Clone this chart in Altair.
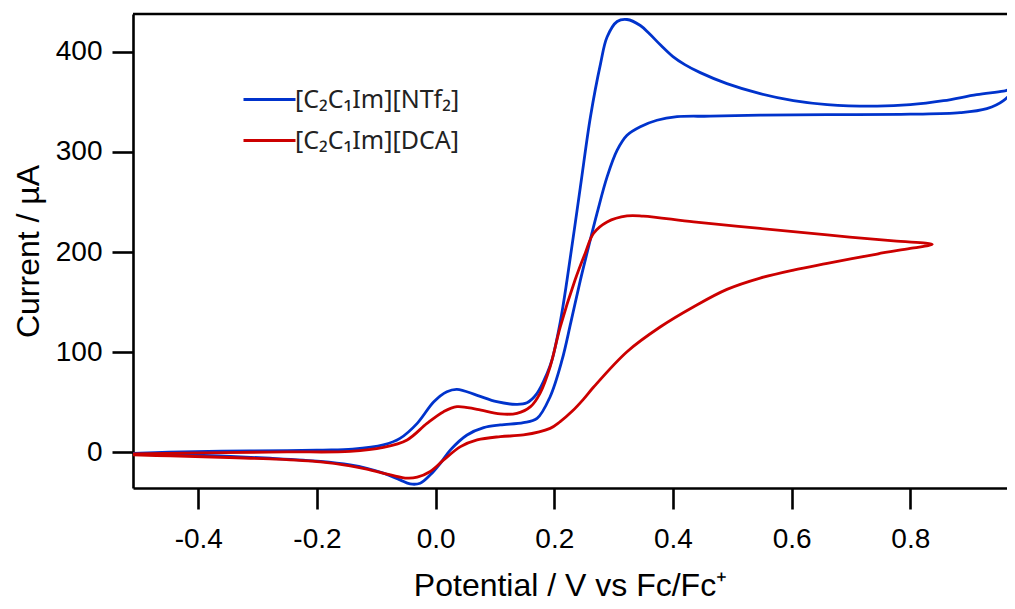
import altair as alt
import pandas as pd

# ---- data (Potential / V, Current / uA) ----
series_names = ["[C\u2082C\u2081Im][NTf\u2082]", "[C\u2082C\u2081Im][DCA]"]
series_colors = ["#0033CC", "#CC0000"]

ntf2_fwd_v = [-0.51, -0.45, -0.36, -0.25, -0.19, -0.14, -0.088, -0.06, -0.031, -0.003, 0.019, 0.036,
              0.07, 0.103, 0.137, 0.154, 0.171, 0.188, 0.196, 0.21, 0.2215, 0.244, 0.261, 0.278,
              0.289, 0.306, 0.3226, 0.345, 0.36, 0.38, 0.40, 0.42, 0.446, 0.491, 0.547, 0.603,
              0.66, 0.744, 0.80, 0.856, 0.912, 0.957, 0.975]
ntf2_fwd_i = [-1.0, 0.2, 1.2, 1.8, 2.3, 3.2, 7.5, 14, 29, 50.6, 60.6, 63,
              57, 50.6, 48, 49.6, 59, 79, 92, 130, 172, 265, 335, 388,
              414.5, 430, 432, 426, 418, 406, 395, 387, 379, 368, 358, 351,
              347, 345.5, 347, 351, 357, 360.5, 363]
ntf2_rev_v = [0.957, 0.929, 0.884, 0.80, 0.66, 0.547, 0.463, 0.407, 0.373, 0.345, 0.3226, 0.306,
              0.289, 0.272, 0.255, 0.244, 0.228, 0.213, 0.193, 0.171, 0.148, 0.109, 0.081, 0.053,
              0.025, 0.008, -0.009, -0.026, -0.043, -0.06, -0.088, -0.116, -0.144, -0.194, -0.279,
              -0.363, -0.447, -0.51]
ntf2_rev_i = [351, 343, 339, 337.5, 337, 336.5, 335.5, 335, 331.5, 325, 316.5, 301.6,
              275, 238.5, 198.6, 172, 130, 92, 55.6, 34, 29.7, 27.4, 24.7, 17.4,
              2.5, -10.8, -22.4, -30.7, -31.4, -27.4, -20.7, -15.8, -12.5, -9, -5.8,
              -3.5, -2, -1.5]

dca_fwd_v = [-0.51, -0.36, -0.25, -0.144, -0.088, -0.048, -0.0145, 0.0135, 0.036, 0.07, 0.109,
             0.137, 0.16, 0.176, 0.193, 0.21, 0.235, 0.252, 0.266, 0.289, 0.3226, 0.35, 0.435,
             0.547, 0.66, 0.772, 0.837]
dca_fwd_i = [-1.5, -0.2, 0.5, 1.0, 5, 12.5, 29, 40.7, 45.7, 43, 38.4,
             39, 45.7, 59, 85.5, 125, 172, 198.6, 218.5, 230, 236, 235.8, 230,
             223.5, 217, 211, 207.6]
dca_rev_v = [0.80, 0.744, 0.66, 0.603, 0.547, 0.491, 0.435, 0.379, 0.3226, 0.266,
             0.249, 0.23, 0.21, 0.193, 0.148, 0.109, 0.07, 0.042, 0.0135, -0.009, -0.031, -0.048,
             -0.076, -0.116, -0.144, -0.194, -0.279, -0.363, -0.447, -0.51]
dca_rev_i = [203.6, 198, 188.6, 182, 174, 162.7, 145.4, 125.4, 100.5, 65,
             53, 41, 30.7, 24, 17.4, 15.8, 12.5, 5.8, -7.5, -19, -24.7, -25.7,
             -22.4, -16.7, -13.5, -9.5, -6.5, -4.8, -3.5, -2.5]

x_ticks = [-0.4, -0.2, 0.0, 0.2, 0.4, 0.6, 0.8]
y_ticks = [0, 100, 200, 300, 400]

rows = []
def add(name, vs, cs, start):
    for k, (v, c) in enumerate(zip(vs, cs)):
        rows.append({"series": name, "V": v, "I": c, "k": start + k})

add(series_names[0], ntf2_fwd_v, ntf2_fwd_i, 0)
add(series_names[0], ntf2_rev_v, ntf2_rev_i, len(ntf2_fwd_v))
add(series_names[1], dca_fwd_v, dca_fwd_i, 0)
add(series_names[1], dca_rev_v, dca_rev_i, len(dca_fwd_v))
df = pd.DataFrame(rows)

W, H = 874, 474

lines = alt.Chart(df).mark_line(interpolate="catmull-rom", strokeWidth=2.8, clip=True).encode(
    x=alt.X("V:Q",
            scale=alt.Scale(domain=[-0.51, 0.963], nice=False, zero=False),
            axis=alt.Axis(values=x_ticks,
                          labelExpr="replace(format(datum.value, '.1f'), '\u2212', '-')",
                          title="Potential / V vs Fc/Fc\u207A",
                          labelPadding=16, titlePadding=17)),
    y=alt.Y("I:Q",
            scale=alt.Scale(domain=[-35.5, 437.5], nice=False, zero=False),
            axis=alt.Axis(values=y_ticks, format="d", title="Current / \u00B5A",
                          labelPadding=10, titlePadding=10)),
    color=alt.Color("series:N",
                    scale=alt.Scale(domain=series_names, range=series_colors),
                    legend=alt.Legend(orient="none", legendX=124, legendY=73, title=None,
                                      symbolType="M-2.6,0H2.6", symbolSize=400,
                                      symbolStrokeWidth=2.8, labelOffset=13, labelLimit=400,
                                      labelFont="Noto Sans", labelFontSize=25,
                                      labelColor="#222222", rowPadding=15, padding=0)),
    order="k:Q",
)

top_rule = alt.Chart(pd.DataFrame({"a": [0]})).mark_rule(color="black", strokeWidth=2.6).encode(
    x=alt.value(0), x2=alt.value(W), y=alt.value(0))

chart = alt.layer(lines, top_rule).properties(
    width=W, height=H,
    autosize=alt.AutoSizeParams(type="none"),
    padding={"left": 125, "top": 6, "right": 0, "bottom": 113},
).configure_view(stroke=None).configure_axis(
    domainColor="black", domainWidth=2.6, tickColor="black", tickWidth=2.6, tickSize=21,
    labelColor="black", titleColor="black", grid=False,
    labelFont="Liberation Sans", titleFont="Liberation Sans",
    labelFontSize=28, titleFontSize=32, titleFontWeight="normal",
)

chart.save("out.html", embed_options={"renderer": "svg", "actions": False})
